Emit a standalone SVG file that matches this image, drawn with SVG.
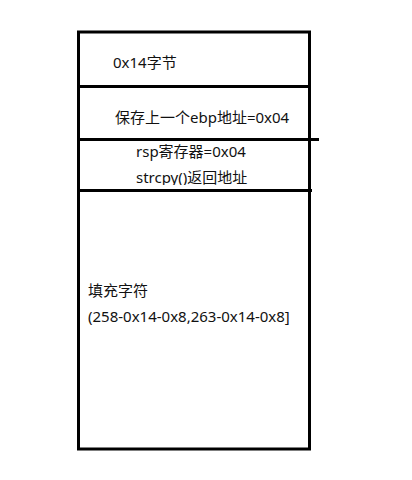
<svg xmlns="http://www.w3.org/2000/svg" width="412" height="480" viewBox="0 0 412 480">
<style>
.t{font-family:"Noto Sans","Noto Sans CJK SC",sans-serif;font-size:15px;fill:#111}
.ln{stroke:#000;stroke-width:3;fill:none}
</style>
<defs><clipPath id="c"><rect x="80" y="140" width="228" height="45"/></clipPath></defs>
<rect width="412" height="480" fill="#fff"/>
<g id="stack">
<rect class="ln" x="78.5" y="32" width="231" height="417"/>
</g>
<g id="connectors">
<line class="ln" x1="78" y1="86.5" x2="309" y2="86.5"/>
<line class="ln" x1="78" y1="139.5" x2="319" y2="139.5"/>
<line class="ln" x1="78" y1="190.5" x2="312" y2="190.5"/>
</g>
<g id="n1"><text class="t" x="113" y="68">0x14字节</text></g>
<g id="n2"><text class="t" x="115" y="123">保存上一个ebp地址=0x04</text></g>
<g id="n3"><text class="t" x="136" y="157">rsp寄存器=0x04</text>
<text class="t" x="136" y="183" clip-path="url(#c)">strcpy()返回地址</text></g>
<g id="n4"><text class="t" x="88" y="296">填充字符</text>
<text class="t" x="88" y="322">(258-0x14-0x8,263-0x14-0x8]</text></g>
</svg>
